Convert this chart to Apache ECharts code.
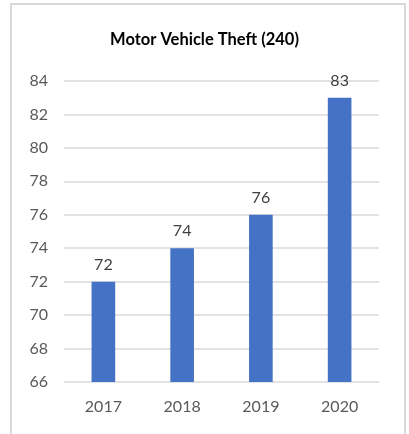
<!DOCTYPE html>
<html>
<head>
<meta charset="utf-8">
<script src="https://cdn.jsdelivr.net/npm/echarts@6/dist/echarts.min.js"></script>
<style>
  html, body { margin: 0; padding: 0; background: #fff; }
  #main { width: 409px; height: 434px; }
</style>
</head>
<body>
<div id="main"></div>
<script>
const years = ['2017', '2018', '2019', '2020']
const thefts = [72, 74, 76, 83]
const chartTitle = 'Motor Vehicle Theft (240)'

const myChart = echarts.init(document.getElementById('main'), null, { renderer: 'canvas' })
const font = 'Lato, "Open Sans", sans-serif'

const option = {
  animation: false,
  textStyle: { fontFamily: font },
  title: {
    text: chartTitle,
    left: 'center',
    top: 26,
    textStyle: { fontSize: 16.5, fontWeight: 'bold', color: '#000', fontFamily: font }
  },
  graphic: [{
    type: 'rect',
    shape: { x: 11, y: 4, width: 394, height: 440 },
    style: { fill: 'none', stroke: '#d9d9d9', lineWidth: 2 }
  }],
  grid: { left: 64, right: 30, top: 81, bottom: 52 },
  xAxis: {
    type: 'category',
    data: years,
    axisLine: { show: false },
    axisTick: { show: false },
    axisLabel: { fontSize: 16, color: '#595959', margin: 17, fontFamily: font }
  },
  yAxis: {
    type: 'value',
    min: 66,
    max: 84,
    interval: 2,
    axisLine: { show: false },
    axisTick: { show: false },
    axisLabel: { fontSize: 16, color: '#595959', margin: 16, fontFamily: font },
    splitLine: { lineStyle: { color: '#d9d9d9', width: 1.5 } }
  },
  series: [{
    type: 'bar',
    data: thefts,
    barWidth: '30%',
    itemStyle: { color: '#4472c4' },
    label: {
      show: true,
      position: 'top',
      distance: 9,
      fontSize: 16,
      color: '#404040',
      fontFamily: font
    }
  }]
}

myChart.setOption(option)
</script>
</body>
</html>
